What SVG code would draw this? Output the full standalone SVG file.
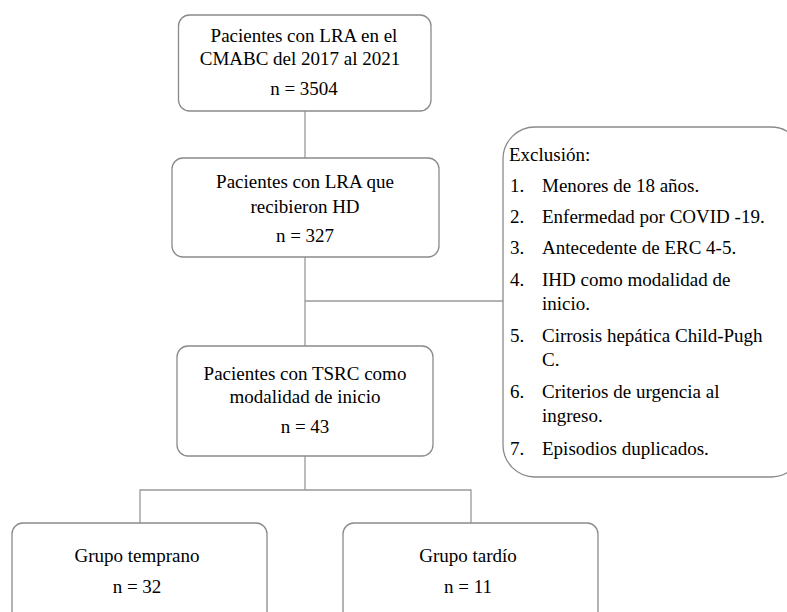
<svg xmlns="http://www.w3.org/2000/svg" width="787" height="612" viewBox="0 0 787 612">
<style>
.box{fill:#ffffff;stroke:#8a8a8a;stroke-width:1.3}
.ln{stroke:#999999;stroke-width:1.3;fill:none}
text{font-family:"Liberation Serif","Times New Roman",serif;font-size:19px;fill:#000000}
.c{text-anchor:middle}
</style>
<rect width="787" height="612" fill="#ffffff"/>
<g id="connectors">
<line class="ln" x1="305" y1="111" x2="305" y2="158"/>
<line class="ln" x1="305" y1="257" x2="305" y2="346"/>
<line class="ln" x1="305" y1="301" x2="503" y2="301"/>
<line class="ln" x1="305" y1="456" x2="305" y2="490"/>
<polyline class="ln" points="140,523 140,490 471,490 471,523"/>
</g>
<g id="n1">
<rect class="box" x="178.5" y="15" width="252.5" height="96" rx="11"/>
<text class="c" x="304" y="42">Pacientes con LRA en el</text>
<text class="c" x="300" y="65">CMABC del 2017 al 2021</text>
<text class="c" x="304" y="95">n = 3504</text>
</g>
<g id="n2">
<rect class="box" x="172" y="158" width="267" height="99" rx="11"/>
<text class="c" x="305" y="188">Pacientes con LRA que</text>
<text class="c" x="305" y="213">recibieron HD</text>
<text class="c" x="305" y="242">n = 327</text>
</g>
<g id="n3">
<rect class="box" x="177" y="346" width="256" height="110" rx="11"/>
<text class="c" x="305" y="380">Pacientes con TSRC como</text>
<text class="c" x="305" y="403">modalidad de inicio</text>
<text class="c" x="305" y="433">n = 43</text>
</g>
<g id="exclusion">
<rect class="box" x="503" y="127" width="300" height="350" rx="32"/>
<text x="509" y="161">Exclusión:</text>
<text x="510" y="192">1.</text><text x="542" y="192">Menores de 18 años.</text>
<text x="510" y="223">2.</text><text x="542" y="223">Enfermedad  por COVID -19.</text>
<text x="510" y="254">3.</text><text x="542" y="254">Antecedente de ERC 4-5.</text>
<text x="510" y="286">4.</text><text x="542" y="286">IHD como modalidad de</text>
<text x="542" y="310">inicio.</text>
<text x="510" y="342">5.</text><text x="542" y="342">Cirrosis hepática Child-Pugh</text>
<text x="542" y="366">C.</text>
<text x="510" y="398">6.</text><text x="542" y="398">Criterios  de urgencia al</text>
<text x="542" y="422">ingreso.</text>
<text x="510" y="455">7.</text><text x="542" y="455">Episodios duplicados.</text>
</g>
<g id="n4">
<rect class="box" x="12" y="523" width="255" height="130" rx="11"/>
<text class="c" x="137" y="562">Grupo temprano</text>
<text class="c" x="137" y="593">n = 32</text>
</g>
<g id="n5">
<rect class="box" x="343" y="523" width="255" height="130" rx="11"/>
<text class="c" x="468" y="562">Grupo tardío</text>
<text class="c" x="468" y="593">n = 11</text>
</g>
</svg>
